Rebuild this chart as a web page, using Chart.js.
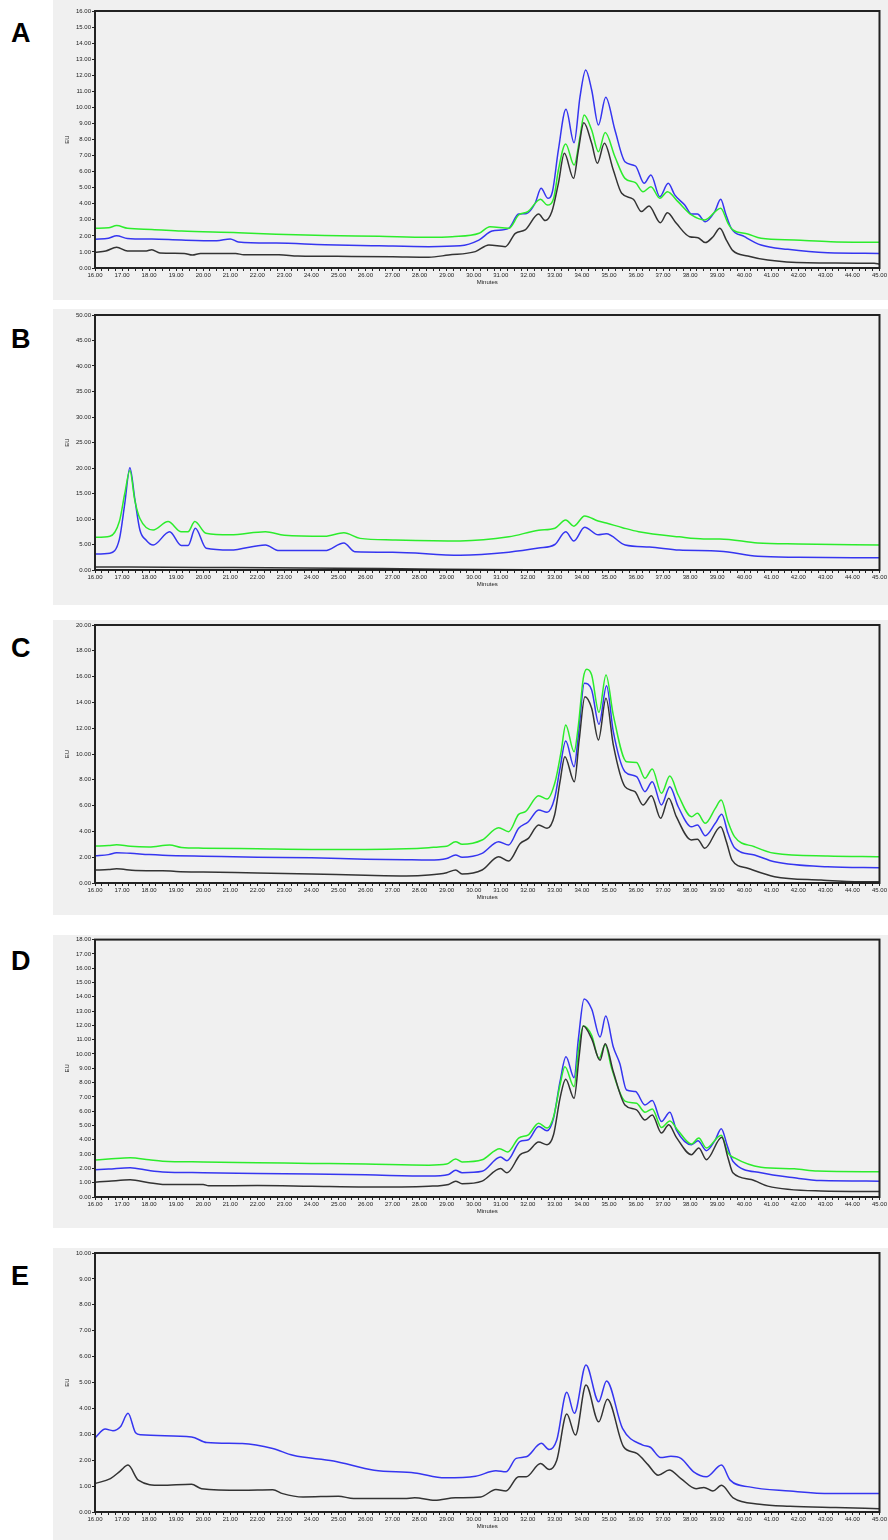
<!DOCTYPE html>
<html>
<head>
<meta charset="utf-8">
<script src="https://cdn.jsdelivr.net/npm/chart.js@4.4.1/dist/chart.umd.min.js"></script>
<style>
  body { margin: 0; background: #fff; width: 888px; height: 1540px; position: relative; overflow: hidden; font-family: Arial, "Liberation Sans", sans-serif; }
  .panel { position: absolute; left: 53px; width: 835px; background: #f0f0f0; }
  .panel canvas { position: absolute; left: 0; top: 0; }
  .letter { position: absolute; left: 11px; font-weight: bold; font-size: 27px; color: #000; line-height: 1; }
</style>
</head>
<body>
<div class="letter" style="top:20px">A</div>
<div class="letter" style="top:326px">B</div>
<div class="letter" style="top:635px">C</div>
<div class="letter" style="top:948px">D</div>
<div class="letter" style="top:1263px">E</div>

<div class="panel" style="top:0px;height:300px"><canvas id="cA" width="835" height="300"></canvas></div>
<div class="panel" style="top:309px;height:296px"><canvas id="cB" width="835" height="296"></canvas></div>
<div class="panel" style="top:620px;height:295px"><canvas id="cC" width="835" height="295"></canvas></div>
<div class="panel" style="top:935px;height:293px"><canvas id="cD" width="835" height="293"></canvas></div>
<div class="panel" style="top:1248px;height:292px"><canvas id="cE" width="835" height="292"></canvas></div>

<script>
// ---- data (minutes / EU) ----
const aGreenT = [16, 16.5, 16.8, 17.2, 18.1, 19.2, 21.3, 22.7, 24.5, 26.5, 28.3, 29.2, 30.2, 30.6, 31.3, 31.66, 32.0, 32.47, 32.72, 32.97, 33.13, 33.4, 33.71, 33.93, 34.08, 34.36, 34.61, 34.86, 35.22, 35.59, 35.98, 36.26, 36.55, 36.88, 37.16, 37.55, 38.05, 38.54, 39.13, 39.4, 39.58, 40.13, 40.62, 41.85, 43.2, 45];
const aGreenY = [2.47, 2.5, 2.64, 2.47, 2.4, 2.3, 2.2, 2.1, 2.02, 1.97, 1.91, 1.95, 2.16, 2.57, 2.47, 3.3, 3.51, 4.28, 3.92, 4.44, 6.1, 7.72, 6.41, 8.18, 9.53, 8.59, 7.24, 8.43, 6.93, 5.58, 5.31, 4.75, 5.06, 4.34, 4.75, 4.13, 3.3, 2.99, 3.72, 2.78, 2.37, 2.12, 1.85, 1.74, 1.64, 1.6];
const aBlueT = [16, 16.5, 16.8, 17.2, 18.1, 19.2, 20.5, 21.0, 21.3, 22.7, 24.5, 26.5, 28.34, 29.5, 30.19, 30.68, 31.29, 31.66, 31.96, 32.27, 32.49, 32.74, 32.91, 33.13, 33.41, 33.71, 33.93, 34.14, 34.36, 34.61, 34.88, 35.22, 35.59, 35.98, 36.3, 36.55, 36.88, 37.19, 37.43, 37.8, 38.05, 38.27, 38.56, 38.91, 39.13, 39.31, 39.52, 40.01, 40.62, 41.61, 43.08, 45];
const aBlueY = [1.79, 1.85, 2.01, 1.84, 1.8, 1.74, 1.7, 1.81, 1.62, 1.55, 1.45, 1.38, 1.33, 1.38, 1.74, 2.3, 2.47, 3.36, 3.4, 4.03, 4.96, 4.34, 4.75, 7.35, 9.88, 7.8, 10.67, 12.33, 11.08, 8.9, 10.63, 8.59, 6.62, 6.35, 5.27, 5.79, 4.44, 5.27, 4.55, 3.92, 3.36, 3.36, 2.88, 3.51, 4.28, 3.4, 2.47, 1.95, 1.43, 1.16, 0.95, 0.91];
const aBlackT = [16, 16.4, 16.8, 17.2, 17.9, 18.1, 18.4, 19.3, 19.6, 19.9, 21.2, 21.5, 22.8, 23.5, 25.5, 27.0, 28.34, 29.07, 30.06, 30.56, 31.17, 31.54, 31.9, 32.4, 32.64, 32.89, 33.13, 33.35, 33.69, 33.87, 34.07, 34.36, 34.57, 34.83, 35.16, 35.47, 35.9, 36.2, 36.48, 36.9, 37.16, 37.49, 37.98, 38.29, 38.56, 38.85, 39.1, 39.34, 39.58, 40.13, 40.87, 42.34, 44.8, 45];
const aBlackY = [0.98, 1.06, 1.29, 1.06, 1.06, 1.14, 0.94, 0.91, 0.81, 0.91, 0.91, 0.82, 0.82, 0.75, 0.72, 0.7, 0.67, 0.81, 1.02, 1.43, 1.33, 2.16, 2.37, 3.36, 2.95, 3.51, 5.27, 7.14, 5.58, 7.35, 9.05, 7.76, 6.52, 7.76, 6.1, 4.65, 4.28, 3.51, 3.86, 2.82, 3.44, 2.78, 1.95, 1.89, 1.58, 1.95, 2.47, 1.74, 1.08, 0.75, 0.5, 0.33, 0.29, 0.25];

const bGreenT = [16, 16.55, 16.9, 17.1, 17.29, 17.47, 17.66, 18.15, 18.7, 19.19, 19.44, 19.69, 20.1, 21.0, 22.3, 23.0, 24.5, 25.2, 25.8, 27.0, 29.5, 31.3, 32.4, 33.0, 33.4, 33.7, 34.1, 34.6, 34.9, 35.5, 36.1, 37.6, 38.5, 39.1, 40.5, 42, 45];
const bGreenY = [6.4, 6.6, 9.5, 15, 19.5, 13.7, 10.1, 7.84, 9.5, 7.5, 7.5, 9.5, 7.2, 6.9, 7.5, 6.8, 6.6, 7.3, 6.2, 5.9, 5.7, 6.5, 7.8, 8.2, 9.8, 8.6, 10.6, 9.6, 9.2, 8.3, 7.5, 6.5, 6.1, 6.1, 5.3, 5.1, 4.9];
const bBlueT = [16, 16.55, 16.9, 17.1, 17.29, 17.47, 17.66, 17.9, 18.15, 18.76, 19.19, 19.44, 19.71, 20.11, 21.0, 22.3, 22.8, 24.5, 25.2, 25.6, 27, 29.5, 31.3, 32.4, 33.0, 33.4, 33.7, 34.1, 34.6, 34.9, 35.6, 36.5, 37.6, 39.1, 40.5, 42, 45];
const bBlueY = [3.14, 3.3, 6, 13, 20.06, 14, 7.84, 5.8, 4.9, 7.5, 4.8, 4.8, 8.17, 4.25, 3.9, 4.9, 3.8, 3.8, 5.3, 3.6, 3.5, 2.9, 3.5, 4.3, 5.0, 7.5, 5.7, 8.4, 6.9, 7.1, 4.9, 4.5, 3.9, 3.7, 2.7, 2.5, 2.4];
const bBlackT = [16, 20, 25, 28, 32, 45];
const bBlackY = [0.6, 0.5, 0.35, 0.2, 0.05, 0.0];

const cGreenT = [16, 16.5, 16.8, 17.3, 18.0, 18.76, 19.2, 20.0, 22, 24, 26, 27.5, 28.34, 28.7, 29.0, 29.33, 29.57, 30.31, 30.92, 31.29, 31.66, 31.91, 32.4, 32.71, 33.01, 33.23, 33.4, 33.71, 33.87, 34.05, 34.18, 34.36, 34.63, 34.89, 35.16, 35.65, 36.02, 36.33, 36.6, 36.94, 37.25, 37.56, 38.05, 38.27, 38.56, 38.93, 39.15, 39.4, 39.64, 40.38, 41.12, 43.08, 45];
const cGreenY = [2.87, 2.9, 2.97, 2.85, 2.8, 2.95, 2.75, 2.7, 2.65, 2.6, 2.6, 2.65, 2.74, 2.8, 2.85, 3.2, 3.0, 3.33, 4.29, 3.98, 5.32, 5.53, 6.77, 6.51, 7.85, 10.18, 12.25, 10.18, 12.25, 15.87, 16.57, 16.12, 13.23, 16.12, 13.02, 9.4, 9.35, 8.12, 8.84, 6.95, 8.29, 6.82, 5.14, 5.4, 4.63, 5.79, 6.43, 4.75, 3.59, 2.81, 2.3, 2.09, 2.04];
const cBlueT = [16, 16.5, 16.8, 17.3, 18.0, 18.5, 19.0, 20, 22, 24, 26, 27.5, 28.34, 29.0, 29.33, 29.57, 30.31, 30.92, 31.29, 31.66, 32.02, 32.4, 32.71, 32.99, 33.19, 33.4, 33.71, 33.87, 34.09, 34.36, 34.63, 34.91, 35.16, 35.59, 36.02, 36.33, 36.6, 36.94, 37.25, 37.56, 38.05, 38.27, 38.56, 38.93, 39.17, 39.4, 39.64, 40.38, 41.12, 43.08, 45];
const cBlueY = [2.12, 2.2, 2.35, 2.3, 2.2, 2.15, 2.12, 2.08, 2.0, 1.95, 1.85, 1.8, 1.78, 1.9, 2.17, 2.0, 2.3, 3.2, 2.95, 4.24, 4.75, 5.66, 5.48, 6.57, 8.89, 11.01, 9.02, 11.47, 15.48, 14.96, 12.3, 15.3, 11.73, 8.63, 8.24, 7.08, 7.85, 6.05, 7.47, 5.91, 4.36, 4.5, 3.67, 4.63, 5.32, 3.85, 2.74, 2.17, 1.65, 1.26, 1.19];
const cBlackT = [16, 16.5, 16.8, 17.5, 18.5, 19.0, 20.0, 22, 24, 26, 27.5, 28.34, 29.0, 29.33, 29.57, 30.31, 30.92, 31.29, 31.72, 32.02, 32.4, 32.71, 32.99, 33.19, 33.37, 33.72, 33.9, 34.11, 34.36, 34.61, 34.89, 35.16, 35.59, 35.96, 36.26, 36.57, 36.91, 37.21, 37.49, 38.05, 38.27, 38.54, 39.13, 39.34, 39.55, 40.13, 41.12, 42.84, 44.31, 45];
const cBlackY = [1.0, 1.05, 1.1, 0.97, 0.95, 0.9, 0.85, 0.78, 0.7, 0.6, 0.55, 0.62, 0.8, 1.01, 0.7, 1.01, 2.04, 1.71, 3.07, 3.46, 4.5, 4.24, 5.27, 7.85, 9.79, 7.85, 11.09, 14.44, 13.54, 11.09, 14.32, 10.7, 7.47, 7.08, 6.05, 6.77, 5.01, 6.57, 5.14, 3.33, 3.4, 2.69, 4.36, 3.2, 1.78, 1.14, 0.49, 0.23, 0.1, 0.1];

const dGreenT = [16, 16.5, 17.3, 18.0, 18.5, 20, 22, 24, 26, 28.34, 29.0, 29.33, 29.57, 30.31, 30.96, 31.26, 31.66, 32.02, 32.4, 32.71, 32.95, 33.19, 33.37, 33.71, 33.87, 34.05, 34.36, 34.63, 34.86, 35.1, 35.59, 36.02, 36.33, 36.6, 36.94, 37.25, 37.56, 38.05, 38.32, 38.6, 39.15, 39.4, 39.64, 40.62, 41.85, 42.71, 45];
const dGreenY = [2.59, 2.65, 2.75, 2.6, 2.5, 2.45, 2.4, 2.35, 2.3, 2.22, 2.3, 2.66, 2.45, 2.6, 3.38, 3.15, 4.12, 4.35, 5.16, 4.82, 5.6, 7.83, 9.1, 7.71, 10.26, 11.95, 11.3, 9.68, 10.65, 8.99, 6.71, 6.55, 5.93, 6.16, 4.86, 5.32, 4.63, 3.7, 4.12, 3.43, 4.31, 3.08, 2.73, 2.08, 1.97, 1.81, 1.76];
const dBlueT = [16, 16.5, 17.3, 18.0, 18.5, 20, 22, 24, 26, 28.34, 29.07, 29.33, 29.57, 30.31, 30.99, 31.23, 31.72, 32.02, 32.4, 32.71, 32.95, 33.19, 33.41, 33.71, 33.87, 34.08, 34.36, 34.67, 34.88, 35.16, 35.4, 35.65, 35.98, 36.33, 36.6, 36.94, 37.25, 37.49, 38.05, 38.29, 38.6, 38.93, 39.15, 39.38, 39.58, 40.62, 41.85, 42.83, 45];
const dBlueY = [1.9, 1.95, 2.05, 1.85, 1.75, 1.7, 1.65, 1.6, 1.55, 1.46, 1.57, 1.87, 1.7, 1.8, 2.8, 2.54, 3.89, 4.0, 4.93, 4.63, 5.51, 8.06, 9.8, 8.34, 11.07, 13.85, 13.15, 11.19, 12.65, 10.49, 9.33, 7.48, 7.37, 6.44, 6.74, 5.28, 5.93, 4.7, 3.66, 3.93, 3.24, 4.0, 4.77, 3.54, 2.5, 1.69, 1.34, 1.15, 1.11];
const dBlackT = [16, 16.5, 17.3, 18.0, 18.5, 20, 20.2, 22, 24, 26, 28.34, 29.07, 29.33, 29.57, 30.31, 30.99, 31.23, 31.72, 32.02, 32.4, 32.71, 32.95, 33.19, 33.4, 33.71, 33.9, 34.05, 34.36, 34.67, 34.86, 35.16, 35.59, 36.02, 36.33, 36.6, 36.94, 37.21, 37.49, 38.05, 38.32, 38.6, 39.17, 39.4, 39.58, 40.26, 40.87, 42.83, 45];
const dBlackY = [1.04, 1.1, 1.2, 1.0, 0.88, 0.88, 0.78, 0.8, 0.75, 0.7, 0.76, 0.88, 1.11, 0.93, 1.11, 1.99, 1.69, 2.96, 3.2, 3.84, 3.66, 4.35, 6.9, 8.24, 6.9, 9.91, 11.95, 11.07, 9.56, 10.72, 8.76, 6.44, 6.09, 5.39, 5.74, 4.47, 5.05, 4.17, 2.96, 3.43, 2.61, 4.17, 2.73, 1.69, 1.22, 0.76, 0.42, 0.38];

const eBlueT = [16.0, 16.38, 16.66, 16.94, 17.22, 17.5, 17.69, 19.57, 20.13, 21.44, 22.57, 23.32, 24.82, 26.32, 27.82, 28.94, 30.07, 30.82, 31.19, 31.57, 31.94, 32.5, 32.79, 33.07, 33.44, 33.72, 34.15, 34.62, 34.91, 35.5, 36.25, 36.53, 36.91, 37.29, 37.66, 38.13, 38.6, 39.16, 39.48, 40.19, 41.69, 43.19, 45];
const eBlueY = [2.86, 3.2, 3.14, 3.29, 3.81, 3.06, 2.98, 2.9, 2.68, 2.64, 2.45, 2.19, 1.97, 1.61, 1.51, 1.32, 1.38, 1.59, 1.55, 2.07, 2.13, 2.65, 2.41, 2.78, 4.62, 3.81, 5.68, 4.26, 5.06, 3.23, 2.58, 2.5, 2.1, 2.15, 2.07, 1.55, 1.36, 1.81, 1.23, 0.97, 0.81, 0.71, 0.71];
const eBlackT = [16.0, 16.57, 16.94, 17.22, 17.6, 18.44, 19.57, 19.94, 21.44, 22.57, 22.94, 23.69, 25.0, 25.56, 27.44, 27.82, 28.56, 29.32, 30.26, 30.82, 31.19, 31.66, 31.94, 32.47, 32.79, 33.07, 33.44, 33.76, 34.15, 34.62, 34.94, 35.54, 36.03, 36.44, 36.82, 37.23, 37.66, 38.22, 38.51, 38.84, 39.16, 39.59, 40.57, 41.69, 43.38, 45];
const eBlackY = [1.1, 1.29, 1.59, 1.81, 1.23, 1.03, 1.07, 0.9, 0.84, 0.86, 0.71, 0.58, 0.61, 0.52, 0.52, 0.55, 0.45, 0.55, 0.58, 0.87, 0.81, 1.36, 1.36, 1.87, 1.64, 2.0, 3.78, 2.97, 4.9, 3.48, 4.35, 2.52, 2.26, 1.83, 1.42, 1.62, 1.29, 0.9, 0.95, 0.81, 1.03, 0.55, 0.3, 0.22, 0.17, 0.13];

// y axis ranges per panel
const yMax = { A: 16, B: 50, C: 20, D: 18, E: 10 };
const yStep = { A: 1, B: 5, C: 2, D: 1, E: 1 };

const GREEN = '#2cec2c', BLUE = '#3535f0', BLACK = '#333333';

function series(t, v, color) {
  return {
    data: t.map((x, i) => ({ x: x, y: v[i] })),
    borderColor: color,
    borderWidth: 1.5,
    pointRadius: 0,
    fill: false,
    cubicInterpolationMode: 'monotone'
  };
}

// dark frame round the plot area (top and right sides too)
const frame = {
  id: 'frame',
  afterDraw(chart) {
    const a = chart.chartArea, ctx = chart.ctx;
    ctx.save();
    ctx.strokeStyle = '#222';
    ctx.lineWidth = 2;
    ctx.strokeRect(a.left, a.top, a.right - a.left, a.bottom - a.top);
    ctx.restore();
  }
};

function panel(id, key, sets, padTop, xH) {
  new Chart(document.getElementById(id), {
    type: 'line',
    data: { datasets: sets },
    options: {
      responsive: false,
      animation: false,
      layout: { padding: { top: padTop, right: 6, left: 0, bottom: 0 } },
      plugins: { legend: { display: false }, tooltip: { enabled: false } },
      scales: {
        x: {
          type: 'linear', min: 16, max: 45,
          afterFit: (s) => { s.height = xH; },
          border: { color: '#222', width: 2 },
          grid: { drawOnChartArea: false, tickLength: 3, color: '#222' },
          ticks: {
            stepSize: 0.25, autoSkip: false, maxRotation: 0, maxTicksLimit: 1000,
            color: '#222', font: { size: 6 }, padding: 1,
            callback: (v) => Math.abs(v - Math.round(v)) < 1e-6 ? Number(v).toFixed(2) : ''
          },
          title: { display: true, text: 'Minutes', color: '#222', font: { size: 6 }, padding: { top: 0, bottom: xH - 18 } }
        },
        y: {
          min: 0, max: yMax[key],
          afterFit: (s) => { s.width = 42; },
          border: { color: '#222', width: 2 },
          grid: { drawOnChartArea: false, tickLength: 3, color: '#222' },
          ticks: { stepSize: yStep[key], color: '#222', font: { size: 6 }, padding: 1, callback: (v) => Number(v).toFixed(2) },
          title: { display: true, text: 'EU', color: '#222', font: { size: 6 }, padding: { top: 11, bottom: 0 } }
        }
      }
    },
    plugins: [frame]
  });
}

panel('cA', 'A', [series(aBlackT, aBlackY, BLACK), series(aGreenT, aGreenY, GREEN), series(aBlueT, aBlueY, BLUE)], 11, 32);
panel('cB', 'B', [series(bBlackT, bBlackY, BLACK), series(bGreenT, bGreenY, GREEN), series(bBlueT, bBlueY, BLUE)], 6, 35);
panel('cC', 'C', [series(cBlackT, cBlackY, BLACK), series(cGreenT, cGreenY, GREEN), series(cBlueT, cBlueY, BLUE)], 5, 32);
panel('cD', 'D', [series(dBlackT, dBlackY, BLACK), series(dGreenT, dGreenY, GREEN), series(dBlueT, dBlueY, BLUE)], 3, 31);
panel('cE', 'E', [series(eBlackT, eBlackY, BLACK), series(eBlueT, eBlueY, BLUE)], 5, 28);
</script>
</body>
</html>
